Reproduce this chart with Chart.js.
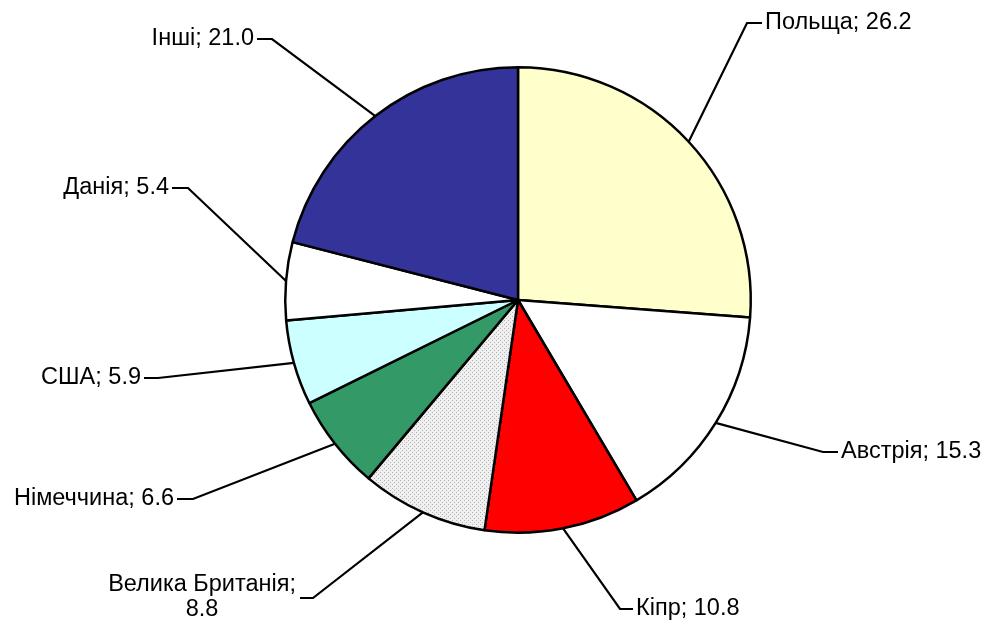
<!DOCTYPE html>
<html>
<head>
<meta charset="utf-8">
<script src="https://cdn.jsdelivr.net/npm/chart.js@4/dist/chart.umd.min.js"></script>
<style>
html,body{margin:0;padding:0;background:#fff;}
#wrap{width:989px;height:624px;}
</style>
</head>
<body>
<div id="wrap"><canvas id="c" width="989" height="624"></canvas></div>
<script>
const categories = ['Польща', 'Австрія', 'Кіпр', 'Велика Британія', 'Німеччина', 'США', 'Данія', 'Інші'];
const shares = [26.2, 15.3, 10.8, 8.8, 6.6, 5.9, 5.4, 21.0];
const sliceColors = ['#FFFFCC', '#FFFFFF', '#FF0000', 'PATTERN', '#339966', '#CCFFFF', '#FFFFFF', '#333399'];

function makePattern() {
  const p = document.createElement('canvas');
  p.width = 4; p.height = 4;
  const g = p.getContext('2d');
  g.fillStyle = '#efefef';
  g.fillRect(0, 0, 4, 4);
  g.fillStyle = '#b4b4b4';
  g.fillRect(0, 0, 1, 1);
  g.fillRect(2, 2, 1, 1);
  return document.getElementById('c').getContext('2d').createPattern(p, 'repeat');
}
const bg = sliceColors.map(c => c === 'PATTERN' ? makePattern() : c);

// label placement (elbow point, end of horizontal stub, side of text)
const labelLayout = [
  {ex: 747, ey: 23, hx: 762, side: 'right'},
  {ex: 823, ey: 452, hx: 838, side: 'right'},
  {ex: 620, ey: 609, hx: 633, side: 'right'},
  {ex: 313, ey: 598, hx: 300, side: 'left', multi: true},
  {ex: 193, ey: 499, hx: 177, side: 'left'},
  {ex: 158, ey: 378, hx: 144, side: 'left'},
  {ex: 188, ey: 188, hx: 172, side: 'left'},
  {ex: 272, ey: 39, hx: 257, side: 'left'}
];

const leaderPlugin = {
  id: 'leaders',
  afterDatasetsDraw(chart) {
    const ctx = chart.ctx;
    const meta = chart.getDatasetMeta(0);
    ctx.save();
    ctx.strokeStyle = '#000';
    ctx.lineWidth = 2.2;
    ctx.fillStyle = '#000';
    ctx.font = '23.5px "Liberation Sans", Arial, sans-serif';
    ctx.textBaseline = 'middle';
    meta.data.forEach((arc, i) => {
      const p = arc.getProps(['x', 'y', 'startAngle', 'endAngle', 'outerRadius'], true);
      const mid = (p.startAngle + p.endAngle) / 2;
      const sx = p.x + Math.cos(mid) * p.outerRadius;
      const sy = p.y + Math.sin(mid) * p.outerRadius;
      const L = labelLayout[i];
      ctx.beginPath();
      ctx.moveTo(sx, sy);
      ctx.lineTo(L.ex, L.ey);
      ctx.lineTo(L.hx, L.ey);
      ctx.stroke();
      const txt = categories[i] + '; ' + shares[i].toFixed(1);
      if (L.multi) {
        const l1 = categories[i] + ';';
        const l2 = shares[i].toFixed(1);
        const w1 = ctx.measureText(l1).width;
        const right = L.hx - 4;
        const cx = right - w1 / 2;
        ctx.textAlign = 'center';
        ctx.fillText(l1, cx, L.ey - 13);
        ctx.fillText(l2, cx, L.ey + 12);
      } else if (L.side === 'right') {
        ctx.textAlign = 'left';
        ctx.fillText(txt, L.hx + 3, L.ey);
      } else {
        ctx.textAlign = 'right';
        ctx.fillText(txt, L.hx - 3, L.ey);
      }
    });
    ctx.restore();
  }
};

const bgPlugin = {
  id: 'bgwhite',
  beforeDraw(chart) {
    const ctx = chart.ctx;
    ctx.save();
    ctx.fillStyle = '#fff';
    ctx.fillRect(0, 0, chart.width, chart.height);
    ctx.restore();
  }
};

new Chart(document.getElementById('c'), {
  type: 'pie',
  data: {
    labels: categories,
    datasets: [{
      data: shares,
      backgroundColor: bg,
      borderColor: '#000',
      borderWidth: 2.5
    }]
  },
  options: {
    responsive: false,
    animation: false,
    layout: {padding: {left: 284, right: 237, top: 66, bottom: 90}},
    plugins: {legend: {display: false}, tooltip: {enabled: false}}
  },
  plugins: [bgPlugin, leaderPlugin]
});
</script>
</body>
</html>
